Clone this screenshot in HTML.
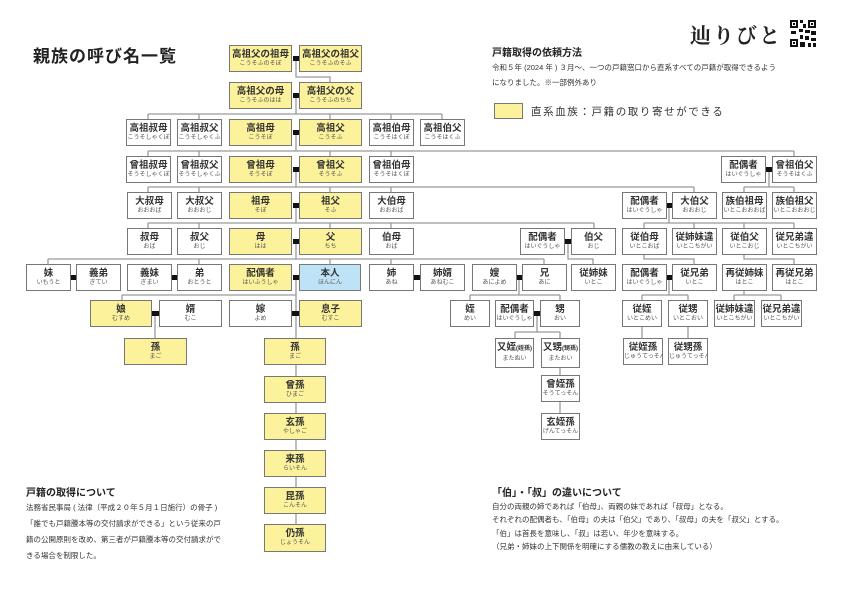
<!DOCTYPE html>
<html><head><meta charset="utf-8">
<style>
body{margin:0;width:842px;height:595px;background:#fff;position:relative;overflow:hidden;font-family:"Liberation Sans","Noto Sans CJK JP",sans-serif;color:#222}
.b{position:absolute;height:27px;width:45px;border:1.3px solid #777;background:#fff;box-sizing:border-box;text-align:center;overflow:hidden;white-space:nowrap}
.b b{display:block;font-size:9.5px;margin-top:3px;line-height:11px;font-weight:bold;color:#333}
.b i{display:block;font-size:6px;font-style:normal;color:#555;line-height:9px}
.y{background:#fdf29c;width:63px}
.w{width:63px}
.bl{background:#bfe3f6;width:62px}
.s{width:40px}
.s b small{font-size:6px}
.t{position:absolute;white-space:nowrap}
</style></head><body>
<svg width="842" height="595" style="position:absolute;left:0;top:0">
<g stroke="#9a9a9a" stroke-width="1.3" fill="none">
<path d="M296 58V77H330V82"/>
<path d="M296 95V114M148 114H442M148 114V119M199 114V119M330 114V119M391 114V119M442 114V119"/>
<path d="M296 132V151M148 151H794M148 151V156M199 151V156M330 151V156M391 151V156M794 151V156"/>
<path d="M296 169V187M148 187H694M148 187V192M199 187V192M330 187V192M391 187V192M694 187V192"/>
<path d="M769 169V187M744 187H794M744 187V192M794 187V192"/>
<path d="M296 205V223M148 223H594M148 223V228M199 223V228M330 223V228M391 223V228M594 223V228"/>
<path d="M669 205V223M644 223H794M644 223V228M694 223V228M744 223V228M794 223V228"/>
<path d="M296 241V259M48 259H544M48 259V264M199 259V264M330 259V264M391 259V264M544 259V264"/>
<path d="M568 241V259H593V264"/>
<path d="M644 255V259H694V264"/>
<path d="M744 255V259H794V264"/>
<path d="M296 277V550M122 295H296M122 295V300"/>
<path d="M155 314V338"/>
<path d="M519 277V295M470 295H560M470 295V300M560 295V300"/>
<path d="M537 314V332M515 332H560M515 332V338M560 332V338M560 368V375M560 402V413"/>
<path d="M669 277V295M642 295H688M642 295V300M688 295V300M642 327V338M688 327V338"/>
<path d="M744 291V295M734 295H781M734 295V300M781 295V300"/>
</g>
<g fill="#111">
<rect x="293" y="56" width="6" height="5"/><rect x="293" y="93" width="6" height="5"/>
<rect x="293" y="130" width="6" height="5"/><rect x="293" y="167" width="6" height="5"/>
<rect x="293" y="203" width="6" height="5"/><rect x="293" y="239" width="6" height="5"/>
<rect x="293" y="275" width="6" height="5"/><rect x="292" y="311" width="7" height="5"/>
<rect x="152" y="311" width="7" height="5"/><rect x="71" y="275" width="5" height="5"/>
<rect x="171" y="275" width="6" height="5"/><rect x="413" y="275" width="7" height="5"/>
<rect x="516" y="275" width="6" height="5"/><rect x="565" y="239" width="6" height="5"/>
<rect x="667" y="203" width="5" height="5"/><rect x="766" y="167" width="6" height="5"/>
<rect x="667" y="275" width="5" height="5"/><rect x="534" y="311" width="6" height="5"/>
</g>
<g fill="#111">
<rect x="790" y="20" width="26" height="27" fill="#fff"/>
<rect x="790" y="20" width="8" height="8"/><rect x="792" y="22" width="4" height="4" fill="#fff"/><rect x="793" y="23" width="2" height="2"/>
<rect x="808" y="20" width="8" height="8"/><rect x="810" y="22" width="4" height="4" fill="#fff"/><rect x="811" y="23" width="2" height="2"/>
<rect x="790" y="39" width="8" height="8"/><rect x="792" y="41" width="4" height="4" fill="#fff"/><rect x="793" y="42" width="2" height="2"/>
<rect x="800" y="20" width="3" height="3"/><rect x="803" y="24" width="3" height="4"/><rect x="799" y="29" width="4" height="3"/>
<rect x="805" y="30" width="5" height="3"/><rect x="791" y="31" width="5" height="3"/><rect x="811" y="31" width="5" height="4"/>
<rect x="800" y="35" width="3" height="4"/><rect x="805" y="36" width="4" height="4"/><rect x="811" y="38" width="5" height="3"/>
<rect x="800" y="42" width="5" height="5"/><rect x="808" y="43" width="3" height="4"/><rect x="813" y="43" width="3" height="4"/>
</g>
</svg>

<div class="t" style="left:33px;top:42px;font-size:17px;font-weight:bold;letter-spacing:1px">親族の呼び名一覧</div>
<div class="t" style="left:690px;top:20px;font-size:21px;font-weight:bold;font-family:'Noto Serif CJK SC',serif;letter-spacing:2px">辿りびと</div>
<div class="t" style="left:492px;top:44px;font-size:10px;font-weight:bold">戸籍取得の依頼方法</div>
<div class="t" style="left:492px;top:60px;font-size:7.5px;line-height:15px;color:#333">令和５年 (2024 年 ) ３月〜、一つの戸籍窓口から直系すべての戸籍が取得できるよう<br>になりました。※一部例外あり</div>
<div style="position:absolute;left:494px;top:103px;width:29px;height:16px;background:#fdf29c;border:1.3px solid #777;box-sizing:border-box"></div>
<div class="t" style="left:531px;top:104px;font-size:10.5px;letter-spacing:1.6px;color:#333">直系血族：戸籍の取り寄せができる</div>

<div class="t" style="left:26px;top:484px;font-size:10px;font-weight:bold">戸籍の取得について</div>
<div class="t" style="left:26px;top:500px;font-size:7.5px;line-height:16px;color:#333">法務省民事局 ( 法律（平成２０年５月１日施行）の骨子 )<br>「誰でも戸籍謄本等の交付請求ができる」という従来の戸<br>籍の公開原則を改め、第三者が戸籍謄本等の交付請求がで<br>きる場合を制限した。</div>
<div class="t" style="left:492px;top:484px;font-size:10px;font-weight:bold">「伯」・「叔」の違いについて</div>
<div class="t" style="left:492px;top:500px;font-size:7.5px;line-height:13.3px;color:#333">自分の両親の姉であれば「伯母」、両親の妹であれば「叔母」となる。<br>それぞれの配偶者も、「伯母」の夫は「伯父」であり、「叔母」の夫を「叔父」とする。<br>「伯」は首長を意味し、「叔」は若い、年少を意味する。<br>（兄弟・姉妹の上下関係を明確にする儒教の教えに由来している）</div>

<div class="b y" style="left:229px;top:45px"><b>高祖父の祖母</b><i>こうそふのそぼ</i></div>
<div class="b y" style="left:299px;top:45px"><b>高祖父の祖父</b><i>こうそふのそふ</i></div>
<div class="b y" style="left:229px;top:82px"><b>高祖父の母</b><i>こうそふのはは</i></div>
<div class="b y" style="left:299px;top:82px"><b>高祖父の父</b><i>こうそふのちち</i></div>
<div class="b" style="left:126px;top:119px"><b>高祖叔母</b><i>こうそしゃくぼ</i></div>
<div class="b" style="left:177px;top:119px"><b>高祖叔父</b><i>こうそしゃくふ</i></div>
<div class="b y" style="left:229px;top:119px"><b>高祖母</b><i>こうそぼ</i></div>
<div class="b y" style="left:299px;top:119px"><b>高祖父</b><i>こうそふ</i></div>
<div class="b" style="left:369px;top:119px"><b>高祖伯母</b><i>こうそはくぼ</i></div>
<div class="b" style="left:420px;top:119px"><b>高祖伯父</b><i>こうそはくふ</i></div>
<div class="b" style="left:126px;top:156px"><b>曾祖叔母</b><i>そうそしゃくぼ</i></div>
<div class="b" style="left:177px;top:156px"><b>曾祖叔父</b><i>そうそしゃくふ</i></div>
<div class="b y" style="left:229px;top:156px"><b>曾祖母</b><i>そうそぼ</i></div>
<div class="b y" style="left:299px;top:156px"><b>曾祖父</b><i>そうそふ</i></div>
<div class="b" style="left:369px;top:156px"><b>曾祖伯母</b><i>そうそはくぼ</i></div>
<div class="b" style="left:721px;top:156px"><b>配偶者</b><i>はいぐうしゃ</i></div>
<div class="b" style="left:772px;top:156px"><b>曾祖伯父</b><i>そうそはくふ</i></div>
<div class="b" style="left:127px;top:192px"><b>大叔母</b><i>おおおば</i></div>
<div class="b" style="left:177px;top:192px"><b>大叔父</b><i>おおおじ</i></div>
<div class="b y" style="left:229px;top:192px"><b>祖母</b><i>そぼ</i></div>
<div class="b y" style="left:299px;top:192px"><b>祖父</b><i>そふ</i></div>
<div class="b" style="left:369px;top:192px"><b>大伯母</b><i>おおおば</i></div>
<div class="b" style="left:622px;top:192px"><b>配偶者</b><i>はいぐうしゃ</i></div>
<div class="b" style="left:672px;top:192px"><b>大伯父</b><i>おおおじ</i></div>
<div class="b" style="left:722px;top:192px"><b>族伯祖母</b><i>いとこおおおば</i></div>
<div class="b" style="left:772px;top:192px"><b>族伯祖父</b><i>いとこおおおじ</i></div>
<div class="b" style="left:127px;top:228px"><b>叔母</b><i>おば</i></div>
<div class="b" style="left:177px;top:228px"><b>叔父</b><i>おじ</i></div>
<div class="b y" style="left:229px;top:228px"><b>母</b><i>はは</i></div>
<div class="b y" style="left:299px;top:228px"><b>父</b><i>ちち</i></div>
<div class="b" style="left:369px;top:228px"><b>伯母</b><i>おば</i></div>
<div class="b" style="left:520px;top:228px"><b>配偶者</b><i>はいぐうしゃ</i></div>
<div class="b" style="left:571px;top:228px"><b>伯父</b><i>おじ</i></div>
<div class="b" style="left:622px;top:228px"><b>従伯母</b><i>いとこおば</i></div>
<div class="b" style="left:672px;top:228px"><b>従姉妹違</b><i>いとこちがい</i></div>
<div class="b" style="left:722px;top:228px"><b>従伯父</b><i>いとこおじ</i></div>
<div class="b" style="left:772px;top:228px"><b>従兄弟違</b><i>いとこちがい</i></div>
<div class="b" style="left:26px;top:264px"><b>妹</b><i>いもうと</i></div>
<div class="b" style="left:76px;top:264px"><b>義弟</b><i>ぎてい</i></div>
<div class="b" style="left:127px;top:264px"><b>義妹</b><i>ぎまい</i></div>
<div class="b" style="left:177px;top:264px"><b>弟</b><i>おとうと</i></div>
<div class="b y" style="left:229px;top:264px"><b>配偶者</b><i>はいふうしゃ</i></div>
<div class="b bl" style="left:299px;top:264px"><b>本人</b><i>ほんにん</i></div>
<div class="b" style="left:369px;top:264px"><b>姉</b><i>あね</i></div>
<div class="b" style="left:420px;top:264px"><b>姉婿</b><i>あねむこ</i></div>
<div class="b" style="left:472px;top:264px"><b>嫂</b><i>あによめ</i></div>
<div class="b" style="left:522px;top:264px"><b>兄</b><i>あに</i></div>
<div class="b" style="left:571px;top:264px"><b>従姉妹</b><i>いとこ</i></div>
<div class="b" style="left:622px;top:264px"><b>配偶者</b><i>はいぐうしゃ</i></div>
<div class="b" style="left:672px;top:264px"><b>従兄弟</b><i>いとこ</i></div>
<div class="b" style="left:722px;top:264px"><b>再従姉妹</b><i>はとこ</i></div>
<div class="b" style="left:772px;top:264px"><b>再従兄弟</b><i>はとこ</i></div>
<div class="b y" style="left:90px;top:300px;width:62px"><b>娘</b><i>むすめ</i></div>
<div class="b w" style="left:159px;top:300px"><b>婿</b><i>むこ</i></div>
<div class="b w" style="left:229px;top:300px"><b>嫁</b><i>よめ</i></div>
<div class="b y" style="left:299px;top:300px"><b>息子</b><i>むすこ</i></div>
<div class="b s" style="left:450px;top:300px"><b>姪</b><i>めい</i></div>
<div class="b s" style="left:495px;top:300px;width:39px"><b>配偶者</b><i>はいぐうしゃ</i></div>
<div class="b s" style="left:540px;top:300px"><b>甥</b><i>おい</i></div>
<div class="b s" style="left:622px;top:300px"><b>従姪</b><i>いとこめい</i></div>
<div class="b s" style="left:668px;top:300px"><b>従甥</b><i>いとこおい</i></div>
<div class="b s" style="left:714px;top:300px;width:41px"><b>従姉妹違</b><i>いとこちがい</i></div>
<div class="b s" style="left:761px;top:300px;width:41px"><b>従兄弟違</b><i>いとこちがい</i></div>
<div class="b y" style="left:124px;top:338px"><b>孫</b><i>まご</i></div>
<div class="b y" style="left:264px;top:338px;width:62px"><b>孫</b><i>まご</i></div>
<div class="b y" style="left:264px;top:376px;width:62px"><b>曾孫</b><i>ひまご</i></div>
<div class="b y" style="left:264px;top:413px;width:62px"><b>玄孫</b><i>やしゃご</i></div>
<div class="b y" style="left:264px;top:450px;width:62px"><b>来孫</b><i>らいそん</i></div>
<div class="b y" style="left:264px;top:487px;width:62px"><b>昆孫</b><i>こんそん</i></div>
<div class="b y" style="left:264px;top:524px;width:62px;height:28px"><b>仍孫</b><i>じょうそん</i></div>
<div class="b s" style="left:495px;top:338px;width:39px;height:30px"><b>又姪<small>(姪孫)</small></b><i>またぬい</i></div>
<div class="b s" style="left:541px;top:338px;width:39px;height:30px"><b>又甥<small>(甥孫)</small></b><i>またおい</i></div>
<div class="b s" style="left:541px;top:375px;width:39px"><b>曾姪孫</b><i>そうてっそん</i></div>
<div class="b s" style="left:541px;top:413px;width:39px"><b>玄姪孫</b><i>げんてっそん</i></div>
<div class="b s" style="left:623px;top:338px"><b>従姪孫</b><i>じゅうてっそん</i></div>
<div class="b s" style="left:668px;top:338px"><b>従甥孫</b><i>じゅうてっそん</i></div>
</body></html>
